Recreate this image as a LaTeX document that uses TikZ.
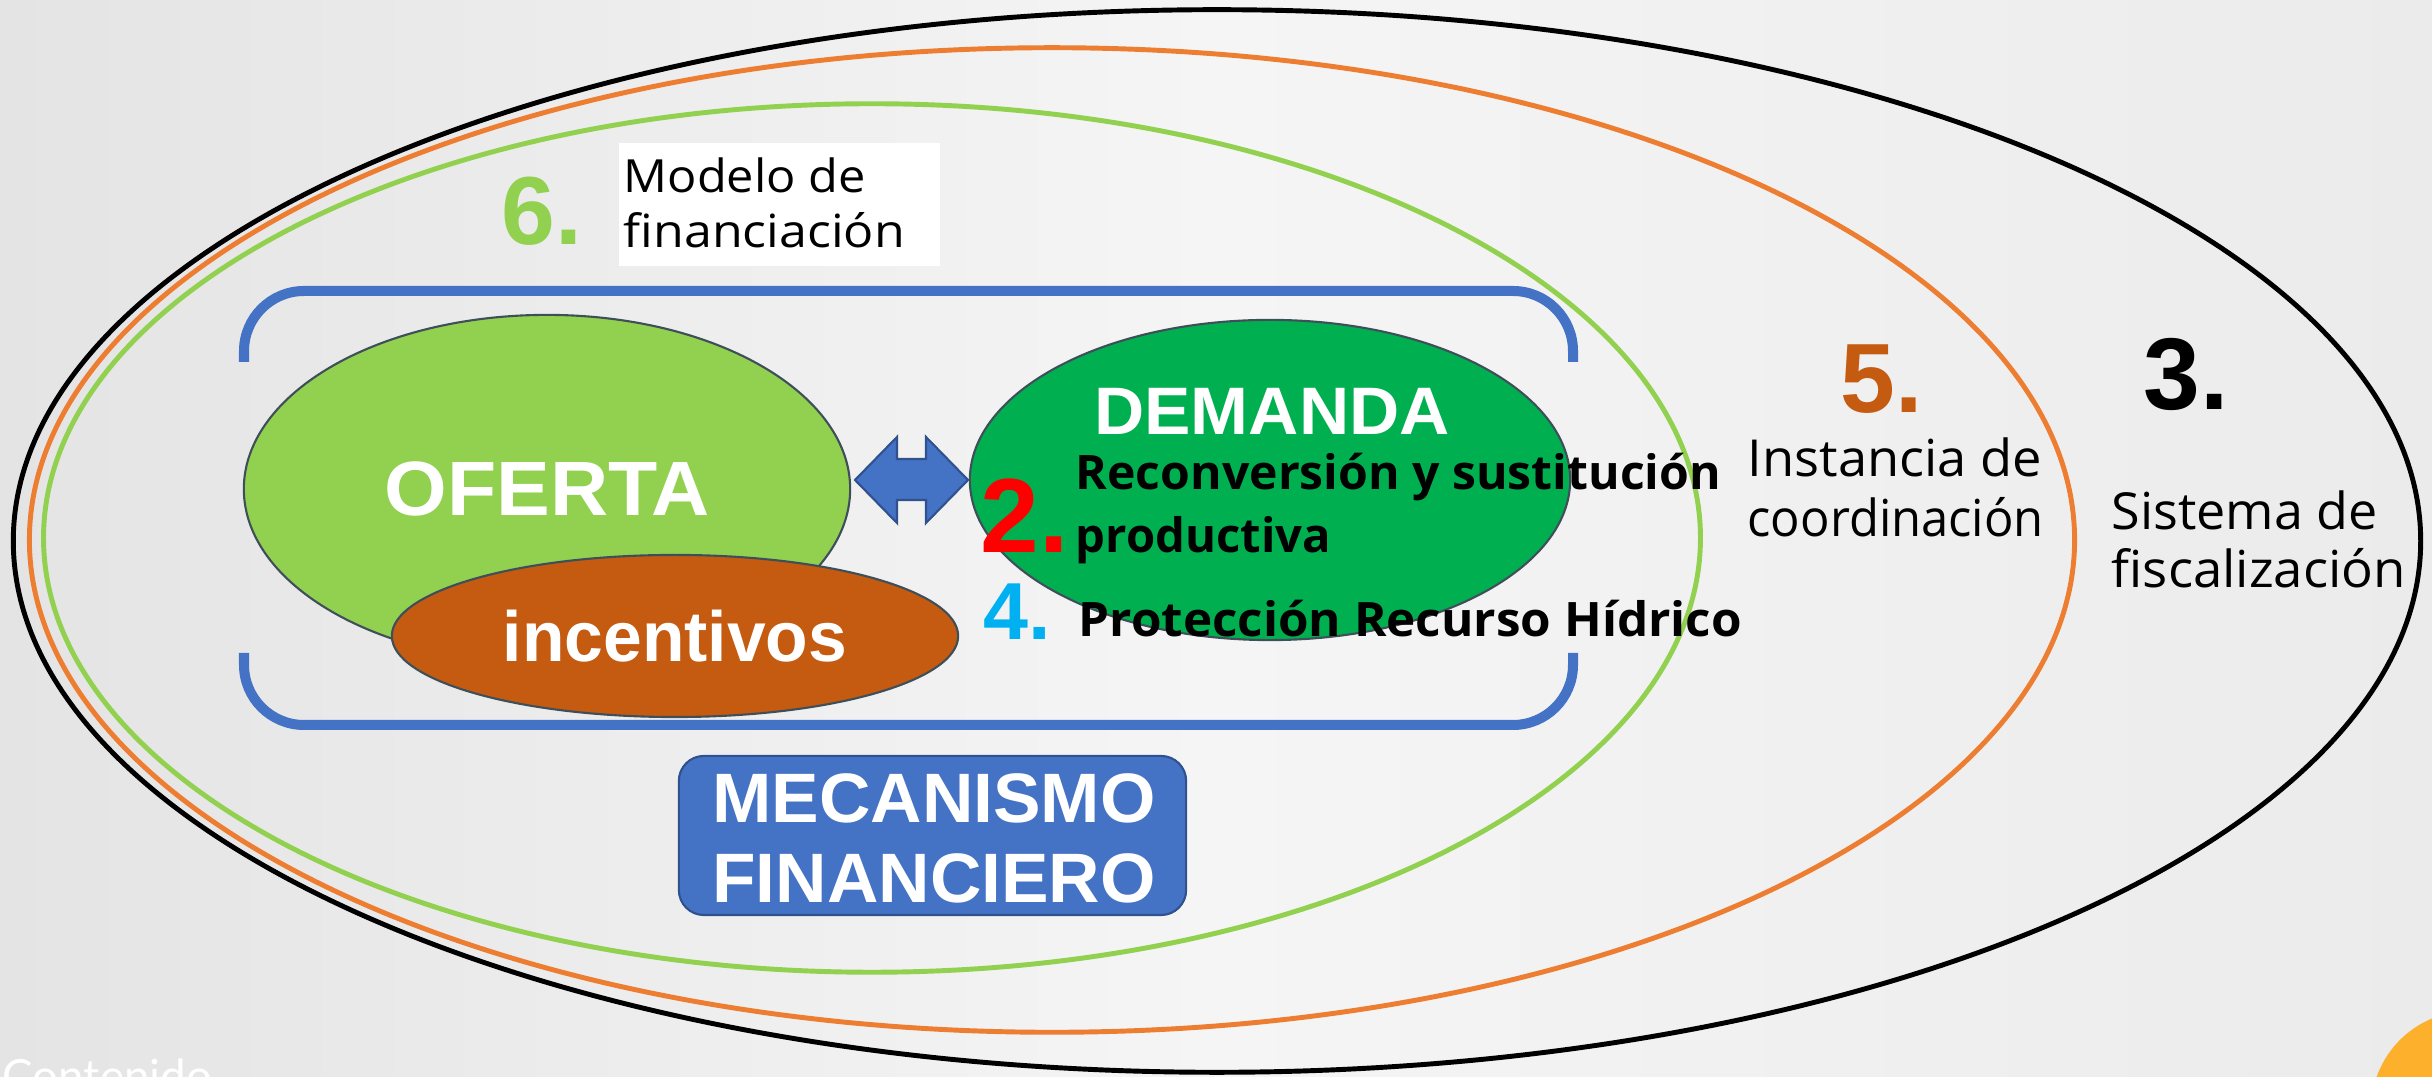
\documentclass[tikz,border=0pt]{standalone}
\usepackage{fontspec}
\setmainfont{Liberation Sans}
\newfontfamily\comicfont{Open Sans}
\newfontfamily\thinfont{Lato}
\usetikzlibrary{shapes.geometric}
\definecolor{limeg}{HTML}{92D050}
\definecolor{deepg}{HTML}{00B050}
\definecolor{rust}{HTML}{C55A11}
\definecolor{slideblue}{HTML}{4472C4}
\definecolor{darkblue}{HTML}{2F528F}
\definecolor{ringorange}{HTML}{ED7D31}
\definecolor{cyanish}{HTML}{00B0F0}
\definecolor{outl}{HTML}{3F4F5A}
\definecolor{bgL}{HTML}{E4E4E4}
\definecolor{bgM}{HTML}{F5F5F5}
\definecolor{bgR}{HTML}{EBEBEB}
\definecolor{cornerorange}{RGB}{252,176,44}
\newcommand\fitw[2]{\resizebox{#1}{\height}{#2}}
\begin{document}
\begin{tikzpicture}[x=0.01cm,y=-0.01cm,
  ring/.style={line width=1.4pt},
  blob/.style={ellipse, draw=outl, line width=0.6pt, inner sep=0pt},
  bigword/.style={text=white, inner sep=0pt},
  numlabel/.style={inner sep=0pt, anchor=base west},
  comictxt/.style={inner sep=0pt, anchor=base west, text=black},
  bracketline/.style={draw=slideblue, line width=2.85pt, rounded corners=0.6cm}
]
\useasboundingbox (0,0) rectangle (2432,1077);
\shade[left color=bgL, right color=bgR, middle color=bgM] (0,0) rectangle (2432,1077);

% nested rings
\draw[ring, black] (1217,541) ellipse [x radius=12.03cm, y radius=5.31cm];
\draw[ring, ringorange] (1052,540) ellipse [x radius=10.22cm, y radius=4.92cm];
\draw[ring, limeg] (872,538) ellipse [x radius=8.28cm, y radius=4.34cm];

% blue bracket
\draw[bracketline] (244,362) -- (244,291) -- (1573,291) -- (1573,362);
\draw[bracketline] (244,653) -- (244,725) -- (1573,725) -- (1573,653);

% ellipses
\node[blob, fill=limeg, minimum width=6.06cm, minimum height=3.48cm,
      text=white, font=\fontsize{21.9}{26}\selectfont\bfseries] (oferta) at (547,489)
      {\raisebox{-0.05cm}{\fitw{3.25cm}{OFERTA}}};
\node[blob, fill=deepg, minimum width=6.0cm, minimum height=3.2cm] (demanda) at (1270,480) {};
\node[bigword, font=\fontsize{19.1}{23}\selectfont\bfseries] (demandalbl) at (1272,411)
      {\fitw{3.55cm}{DEMANDA}};
\node[blob, fill=rust, minimum width=5.66cm, minimum height=1.62cm,
      text=white, font=\fontsize{20.2}{24}\selectfont\bfseries] (incent) at (675,636)
      {\fitw{3.44cm}{incentivos}};

% double block arrow between OFERTA and DEMANDA
\filldraw[fill=slideblue, draw=darkblue, line width=0.6pt, line join=miter]
  (855,480) -- (897,437) -- (897,459) -- (926,459) -- (926,437) -- (968,480)
  -- (926,523) -- (926,500) -- (897,500) -- (897,523) -- cycle;

% mecanismo financiero
\node[fill=slideblue, draw=darkblue, line width=0.6pt, rounded corners=0.25cm,
      minimum width=5.07cm, minimum height=1.59cm, inner sep=0pt] (mecbox) at (932.5,835.5) {};
\node[bigword, font=\fontsize{19.9}{24}\selectfont\bfseries] (mec1) at (934,798) {\fitw{4.43cm}{MECANISMO}};
\node[bigword, font=\fontsize{19.9}{24}\selectfont\bfseries] (mec2) at (934,878) {\fitw{4.43cm}{FINANCIERO}};

% 6. Modelo de financiacion
\node[fill=white, minimum width=3.21cm, minimum height=1.23cm, inner sep=0pt] (modbox) at (779.5,204.5) {};
\node[numlabel, text=limeg, font=\fontsize{27.5}{32}\selectfont\bfseries] (n6) at (501,245) {6.};
\node[comictxt, font=\comicfont\fontsize{13}{15}\selectfont] (mod1) at (623,193) {\fitw{2.42cm}{Modelo de}};
\node[comictxt, font=\comicfont\fontsize{13}{15}\selectfont] (mod2) at (623,248) {\fitw{2.81cm}{financiación}};

% 2. Reconversion
\node[numlabel, text=red, font=\fontsize{30}{34}\selectfont\bfseries] (n2) at (980,553) {2.};
\node[comictxt, font=\comicfont\fontsize{13.5}{15}\selectfont\bfseries] (rec1) at (1075,490) {\fitw{6.45cm}{Reconversión y sustitución}};
\node[comictxt, font=\comicfont\fontsize{13.5}{15}\selectfont\bfseries] (rec2) at (1075,553) {\fitw{2.55cm}{productiva}};

% 4. Proteccion
\node[numlabel, text=cyanish, font=\fontsize{23}{27}\selectfont\bfseries] (n4) at (983,640) {4.};
\node[comictxt, font=\comicfont\fontsize{13.5}{15}\selectfont\bfseries] (prot) at (1078,637) {\fitw{6.63cm}{Protección Recurso Hídrico}};

% 5. Instancia
\node[numlabel, text=rust, font=\fontsize{28}{32}\selectfont\bfseries] (n5) at (1840,413) {5.};
\node[comictxt, font=\comicfont\fontsize{14.5}{17}\selectfont] (ins1) at (1747,477) {\fitw{2.94cm}{Instancia de}};
\node[comictxt, font=\comicfont\fontsize{14.5}{17}\selectfont] (ins2) at (1747,537) {\fitw{2.96cm}{coordinación}};

% 3. Sistema
\node[numlabel, text=black, font=\fontsize{29}{33}\selectfont\bfseries] (n3) at (2143,410) {3.};
\node[comictxt, font=\comicfont\fontsize{14.5}{17}\selectfont] (sis1) at (2111,530) {\fitw{2.66cm}{Sistema de}};
\node[comictxt, font=\comicfont\fontsize{14.5}{17}\selectfont] (sis2) at (2111,588) {\fitw{2.94cm}{fiscalización}};

% slide leftovers
\node[inner sep=0pt, anchor=base west, text=white, font=\thinfont\fontsize{13}{15}\selectfont] (cont) at (2,1093) {Contenido};
\fill[cornerorange] (2470,1110) circle [radius=0.99cm];
\end{tikzpicture}
\end{document}
